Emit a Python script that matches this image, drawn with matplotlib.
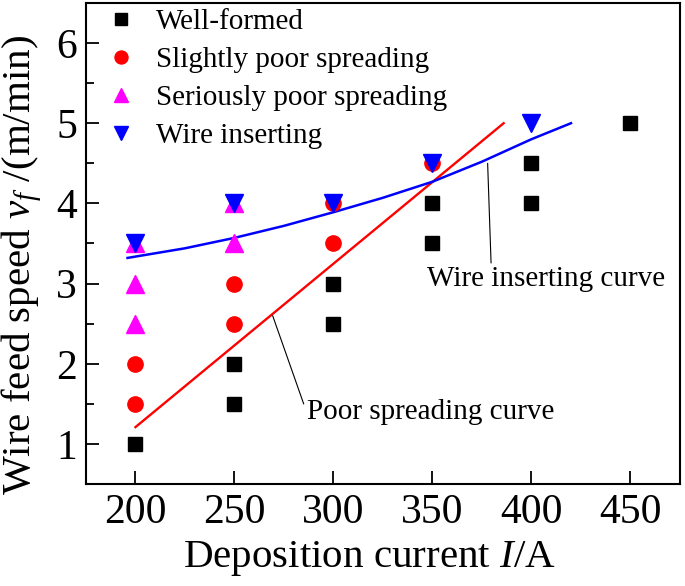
import numpy as np
import matplotlib
matplotlib.use("Agg")
from matplotlib import pyplot as plt
from matplotlib.ticker import MultipleLocator

plt.rcParams['font.family'] = 'Liberation Serif'
plt.rcParams['mathtext.fontset'] = 'custom'
plt.rcParams['mathtext.rm'] = 'Liberation Serif'
plt.rcParams['mathtext.it'] = 'Liberation Serif:italic'

# measured points (current A, wire feed speed m/min)
well_x = [200, 250, 250, 300, 300, 350, 350, 400, 400, 450]
well_y = [1.0, 1.5, 2.0, 2.5, 3.0, 3.5, 4.0, 4.0, 4.5, 5.0]

slight_x = [200, 200, 250, 250, 300, 300, 350]
slight_y = [1.5, 2.0, 2.5, 3.0, 3.5, 4.0, 4.5]

serious_x = [200, 200, 200, 250, 250]
serious_y = [2.5, 3.0, 3.5, 3.5, 4.0]

insert_x = [200, 250, 300, 350, 400]
insert_y = [3.5, 4.0, 4.0, 4.5, 5.0]

# boundary curves
poor_x = [200, 386]
poor_y = [1.21, 5.0]

wire_cx = [196, 225, 250, 275, 300, 325, 350, 375, 400, 420]
wire_cy = [3.32, 3.44, 3.57, 3.72, 3.89, 4.07, 4.27, 4.52, 4.80, 5.0]

fig = plt.figure(figsize=(6.85, 5.86), dpi=100)
ax = fig.add_axes([0.1255, 0.174, 0.867, 0.821])

ax.plot(poor_x, poor_y, color='red', lw=1.7, zorder=2)
ax.plot(wire_cx, wire_cy, color='blue', lw=1.8, zorder=2)

ax.plot(well_x, well_y, 's', color='black', ms=9.5, ls='none', label='Well-formed', zorder=3)
ax.plot(slight_x, slight_y, 'o', color='red', ms=11, ls='none', label='Slightly poor spreading', zorder=3)
ax.plot(serious_x, serious_y, '^', color='magenta', ms=12.5, ls='none', label='Seriously poor spreading', zorder=3)
ax.plot(insert_x, insert_y, 'v', color='blue', ms=12.5, ls='none', label='Wire inserting', zorder=3)

ax.annotate('Poor spreading curve', xy=(269.3, 2.6), xytext=(286.4, 1.4),
            fontsize=21, va='center', ha='left',
            arrowprops=dict(arrowstyle='-', color='black', lw=0.8, shrinkA=0, shrinkB=0,
                            relpos=(0, 0.5)))
ax.annotate('Wire inserting curve', xy=(377.9, 4.5), xytext=(347.2, 3.06),
            fontsize=21, va='center', ha='left',
            arrowprops=dict(arrowstyle='-', color='black', lw=0.8, shrinkA=0, shrinkB=0,
                            relpos=(0.27, 1.0)))

ax.set_xlim(175, 475)
ax.set_ylim(0.5, 6.5)
ax.xaxis.set_major_locator(MultipleLocator(50))
ax.yaxis.set_major_locator(MultipleLocator(1))
ax.yaxis.set_minor_locator(MultipleLocator(0.5))
ax.tick_params(axis='both', which='major', direction='in', length=9.5, width=1.3,
               labelsize=30, pad=6.5)
ax.tick_params(axis='y', which='minor', direction='in', length=6, width=1.3)
ax.tick_params(top=False, right=False)
for s in ax.spines.values():
    s.set_linewidth(1.5)

ax.set_xlabel('Deposition current $\\mathit{I}$/A', fontsize=29.5)
ax.xaxis.set_label_coords(0.478, -0.114)
ax.set_ylabel('Wire feed speed $\\mathit{v_f}$ /(m/min)', fontsize=29.5)
ax.yaxis.set_label_coords(-0.07, 0.455)

ax.legend(loc='upper left', frameon=False, fontsize=21, handletextpad=0.2,
          labelspacing=0.4, borderaxespad=0.0, borderpad=0.2, handlelength=2.0,
          markerscale=0.85)

fig.savefig('out.png', dpi=100)
